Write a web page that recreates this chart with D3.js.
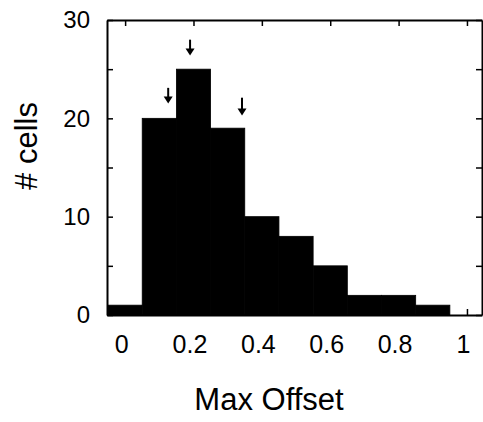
<!DOCTYPE html>
<html lang="">
  <head>
    <meta charset="utf-8">
    <title>Max Offset histogram</title>
    <style type="text/css">
      body{
        margin: 0;
        background-color: white;
      }svg{
        display: block;
      }
      text{
        font-family: "Liberation Sans", Arial, sans-serif;
        fill: black;
      }
    </style>
  </head>
  <body>
    <div id='svg_container'></div>

    <script src="https://d3js.org/d3.v7.min.js"></script>
    <script type="text/javascript">

      // histogram bins (centre of bin) and counts
      var binCenters = [0, 0.1, 0.2, 0.3, 0.4, 0.5, 0.6, 0.7, 0.8, 0.9, 1.0];
      var counts     = [1, 20, 25, 19, 10, 8, 5, 2, 2, 1, 0];
      var binWidth = 0.1;

      // arrows above the peak (x, top of shaft, tip)
      var arrowX   = [0.126, 0.19, 0.342];
      var arrowTop = [23.1, 28.0, 22.1];
      var arrowTip = [21.5, 26.4, 20.3];

      var xTicks = [0, 0.2, 0.4, 0.6, 0.8, 1];
      var yTicks = [0, 10, 20, 30];
      var yMinor = [0, 5, 10, 15, 20, 25, 30];

      const w = 483;
      const h = 422;

      const padL = 107, padR = 482, padT = 20, padB = 315;

      var svg = d3.select('#svg_container').append('svg').attr('width', w).attr('height', h);

      var scaleX = d3.scaleLinear().domain([-0.053, 1.044]).range([padL, padR]);
      var scaleY = d3.scaleLinear().domain([0, 30]).range([padB, padT]);

      // bars (stroked so neighbours join without seams)
      svg.append('g').selectAll('rect').data(counts).enter().append('rect')
        .attr('x', (d,i)=>scaleX(binCenters[i]-binWidth/2))
        .attr('width', (d,i)=>scaleX(binCenters[i]+binWidth/2)-scaleX(binCenters[i]-binWidth/2))
        .attr('y', (d)=>scaleY(d))
        .attr('height', (d)=>scaleY(0)-scaleY(d))
        .attr('fill', 'black')
        .attr('stroke', (d)=>d > 0 ? 'black' : 'none').attr('stroke-width', 0.8);

      // axes, ticks point inward
      var xAxis = d3.axisBottom(scaleX).tickValues(xTicks).tickFormat(d3.format('')).tickSizeInner(-6).tickSizeOuter(0).tickPadding(20);
      var xTop = d3.axisTop(scaleX).tickValues(xTicks).tickFormat('').tickSizeInner(-6).tickSizeOuter(0);
      var yAxis = d3.axisLeft(scaleY).tickValues(yMinor).tickFormat((d)=>yTicks.indexOf(d) >= 0 ? d : '').tickSizeInner(-6).tickSizeOuter(0).tickPadding(17);
      var yRight = d3.axisRight(scaleY).tickValues(yMinor).tickFormat('').tickSizeInner(-6).tickSizeOuter(0);

      var gx = svg.append('g').attr('transform', 'translate(0,' + padB + ')').call(xAxis);
      svg.append('g').attr('transform', 'translate(0,' + padT + ')').call(xTop);
      var gy = svg.append('g').attr('transform', 'translate(' + padL + ',0)').call(yAxis);
      svg.append('g').attr('transform', 'translate(' + padR + ',0)').call(yRight);

      svg.selectAll('.domain').attr('stroke', 'black').attr('stroke-width', 2);
      svg.selectAll('.tick line').attr('stroke', 'black').attr('stroke-width', 1.5);
      gx.selectAll('text').style('font-size', '25px').attr('dx', -4).attr('fill', 'black');
      gy.selectAll('text').style('font-size', '24px').attr('fill', 'black');

      // arrows
      var arrows = svg.append('g');
      arrowX.forEach(function(ax, i){
        var px = scaleX(ax);
        var y0 = scaleY(arrowTop[i]);
        var y1 = scaleY(arrowTip[i]);
        arrows.append('line').attr('x1', px).attr('x2', px).attr('y1', y0).attr('y2', y1 - 4)
          .attr('stroke', 'black').attr('stroke-width', 2);
        arrows.append('path')
          .attr('d', 'M' + (px-4.5) + ',' + (y1-7) + 'L' + (px+4.5) + ',' + (y1-7) + 'L' + px + ',' + y1 + 'Z')
          .attr('fill', 'black');
      });

      // axis titles
      svg.append('text').attr('x', 269).attr('y', 410).attr('text-anchor', 'middle')
        .style('font-size', '31px').text('Max Offset');
      svg.append('text').attr('transform', 'translate(37,146) rotate(-90)').attr('text-anchor', 'middle')
        .style('font-size', '31px').text('# cells');

    </script>
  </body>
</html>
